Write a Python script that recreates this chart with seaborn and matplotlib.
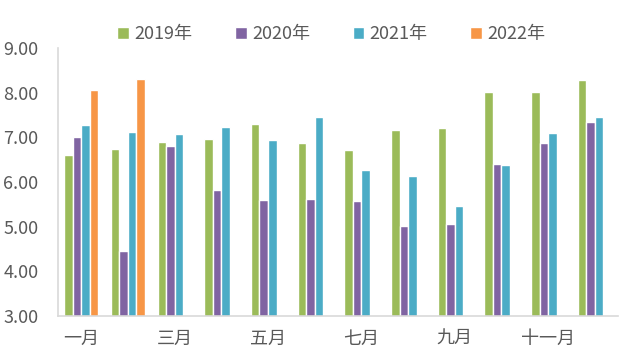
import numpy as np
import pandas as pd
import seaborn as sns
import matplotlib.pyplot as plt
from matplotlib.ticker import FixedLocator

# Data
months = ['一月', '二月', '三月', '四月', '五月', '六月',
          '七月', '八月', '九月', '十月', '十一月', '十二月']
y2019 = [6.61, 6.75, 6.90, 6.97, 7.31, 6.88, 6.73, 7.17, 7.22, 8.02, 8.02, 8.29]
y2020 = [7.02, 4.45, 6.81, 5.83, 5.61, 5.63, 5.58, 5.02, 5.07, 6.41, 6.88, 7.35]
y2021 = [7.28, 7.13, 7.08, 7.24, 6.95, 7.46, 6.28, 6.14, 5.47, 6.39, 7.10, 7.46]
y2022 = [8.07, 8.31] + [np.nan] * 10
years = ['2019年', '2020年', '2021年', '2022年']
colors = ['#9BBB59', '#8064A2', '#4BACC6', '#F79646']

df = pd.DataFrame({'月份': months, '2019年': y2019, '2020年': y2020,
                   '2021年': y2021, '2022年': y2022})
long_df = df.melt(id_vars='月份', var_name='年份', value_name='值')

sns.set_style('white')
plt.rcParams['font.family'] = ['Noto Sans CJK SC', 'DejaVu Sans']

fig = plt.figure(figsize=(6.36, 3.54), dpi=100)
ax = fig.add_axes([0.091, 0.107, 0.881, 0.757])

sns.barplot(data=long_df, x='月份', y='值', hue='年份', order=months,
            hue_order=years, palette=colors, width=0.73, saturation=1,
            ax=ax, legend=True)

ax.set_ylim(3, 9)
ax.set_xlim(-0.5, 11.5)
ax.set_yticks(np.arange(3, 9.01, 1))
ax.set_yticklabels([f'{v:.2f}' for v in np.arange(3, 9.01, 1)])
ax.set_xticks(range(0, 12, 2))
ax.set_xticklabels(months[::2])
ax.xaxis.set_minor_locator(FixedLocator([1.5, 3.5, 5.5, 7.5, 9.5, 11.5]))
ax.set_xlabel('')
ax.set_ylabel('')

ax.tick_params(axis='y', length=0, pad=14, labelsize=13, labelcolor='#595959')
ax.tick_params(axis='x', which='major', length=0, pad=10, labelsize=13,
               labelcolor='#595959')
ax.tick_params(axis='x', which='minor', direction='in', length=3,
               color='#D9D9D9', width=1)

for side in ['top', 'right']:
    ax.spines[side].set_visible(False)
for side in ['left', 'bottom']:
    ax.spines[side].set_color('#D9D9D9')
    ax.spines[side].set_linewidth(1.2)

handles, labels = ax.get_legend_handles_labels()
ax.legend_.remove()
fig.legend(handles, labels, loc='upper center', bbox_to_anchor=(0.521, 0.975),
           ncol=4, frameon=False, fontsize=13, handlelength=0.65,
           handleheight=0.65, handletextpad=0.3, columnspacing=2.35,
           labelcolor='#595959')

fig.savefig('out.png', dpi=100)
